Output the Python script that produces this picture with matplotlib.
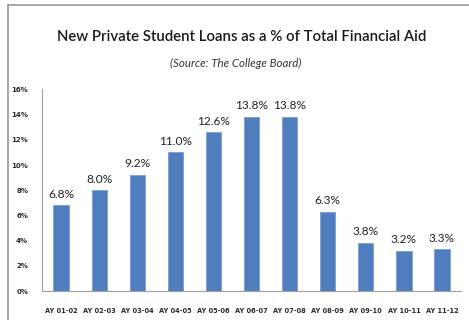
import matplotlib
matplotlib.use("Agg")
import matplotlib.pyplot as plt
from matplotlib.lines import Line2D
import numpy as np

years = ["AY 01-02", "AY 02-03", "AY 03-04", "AY 04-05", "AY 05-06", "AY 06-07",
         "AY 07-08", "AY 08-09", "AY 09-10", "AY 10-11", "AY 11-12"]
share = [6.8, 8.0, 9.2, 11.0, 12.6, 13.8, 13.8, 6.3, 3.8, 3.2, 3.3]
yticks = [0, 2, 4, 6, 8, 10, 12, 14, 16]

fig = plt.figure(figsize=(4.69, 3.2), dpi=100)
ax = fig.add_axes([0.0896, 0.0906, 0.8934, 0.630])

x = np.arange(len(years))
ax.bar(x, share, width=0.4, color='#4f7dbd', edgecolor='#7b9fd6', linewidth=0.6)

# value labels above each bar
for xi, v in zip(x, share):
    ax.text(xi, v + 0.45, '%.1f%%' % v, ha='center', va='bottom',
            fontsize=8.6, family='Lato', color='#222222')

ax.set_xlim(-0.5, len(years) - 0.5)
ax.set_ylim(0, 16)
ax.set_yticks(yticks)
ax.set_yticklabels(['%d%%' % t for t in yticks], fontsize=5, color='#2a2a2a',
                   fontweight='bold')
ax.set_xticks(x)
ax.set_xticklabels(years, fontsize=4.8, color='#2a2a2a', fontweight='bold')
ax.tick_params(axis='x', length=0, pad=12)
ax.tick_params(axis='y', length=0, pad=10)

for side in ['top', 'right']:
    ax.spines[side].set_visible(False)
ax.spines['left'].set_color('#a0a0a0')
ax.spines['bottom'].set_color('#a0a0a0')
ax.spines['left'].set_linewidth(0.8)
ax.spines['bottom'].set_linewidth(0.8)

fig.text(0.516, 0.884, 'New Private Student Loans as a % of Total Financial Aid',
         ha='center', va='center', fontsize=10.8, family='Lato', weight='semibold',
         color='#1a1a1a')
fig.text(0.503, 0.803, '(Source: The College Board)', ha='center', va='center',
         fontsize=8.3, family='Lato', style='italic', color='#333333')

# outer frame, only top and left edges show
fig.add_artist(Line2D([8 / 469, 1], [1 - 5 / 320, 1 - 5 / 320],
                      transform=fig.transFigure, color='#9a9a9a', lw=1.2))
fig.add_artist(Line2D([8 / 469, 8 / 469], [0, 1 - 5 / 320],
                      transform=fig.transFigure, color='#9a9a9a', lw=1.2))

fig.savefig('out.png', dpi=100)
